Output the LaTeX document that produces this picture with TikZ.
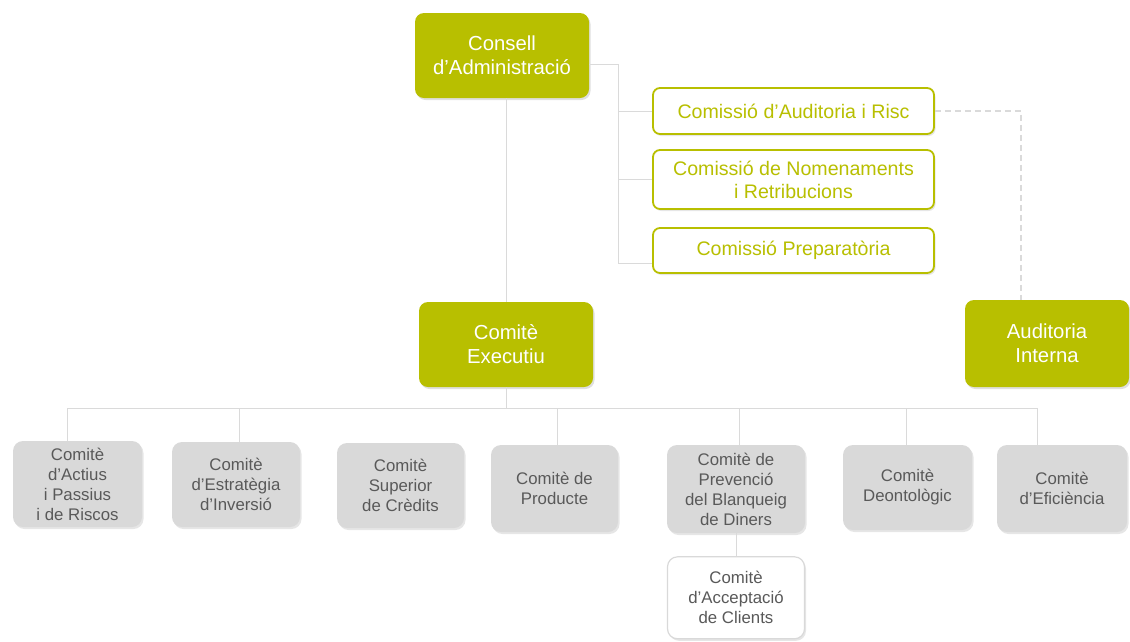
\documentclass[tikz,border=0pt]{standalone}
\usepackage{fontspec}
\setmainfont{Liberation Sans}
\usetikzlibrary{positioning, shadows}
\definecolor{olivegreen}{HTML}{B8BF00}
\definecolor{boxgray}{HTML}{D9D9D9}
\definecolor{inkgray}{HTML}{595959}
\definecolor{linegray}{HTML}{DADADA}
\tikzset{
  gbox/.style={fill=olivegreen, rounded corners=9pt, align=center, inner sep=0pt,
    font=\fontsize{20.3}{24}\selectfont, text=white,
    drop shadow={shadow xshift=1.5pt, shadow yshift=-2pt, opacity=.25}},
  cbox/.style={draw=olivegreen, fill=white, line width=1.8pt, rounded corners=7pt, align=center,
    inner sep=0pt, font=\fontsize{19.6}{23}\selectfont, text=olivegreen,
    drop shadow={shadow xshift=1.5pt, shadow yshift=-2pt, opacity=.2}},
  kbox/.style={fill=boxgray, rounded corners=10pt, align=center, inner sep=0pt,
    font=\fontsize{16.8}{20}\selectfont, text=inkgray,
    drop shadow={shadow xshift=1.5pt, shadow yshift=-2pt, opacity=.2}},
  wbox/.style={kbox, fill=white, draw=boxgray, line width=1.2pt},
  link/.style={draw=linegray, line width=1pt},
  dlink/.style={draw=linegray, line width=1.6pt, dash pattern=on 6pt off 4pt}
}
\begin{document}
\begin{tikzpicture}[x=1pt, y=-1pt]
\useasboundingbox (0,0) rectangle (1130,641);
% top level
\node[gbox, minimum width=174pt, minimum height=85pt] (consell) at (502,55.5) {Consell\\d’Administració};
\node[cbox, minimum width=281pt, minimum height=46pt] (aud) at (793.5,111) {Comissió d’Auditoria i Risc};
\node[cbox, minimum width=281pt, minimum height=59pt] (nom) at (793.5,179.5) {Comissió de Nomenaments\\i Retribucions};
\node[cbox, minimum width=281pt, minimum height=45pt] (prep) at (793.5,250.5) {Comissió Preparatòria};
\node[gbox, minimum width=174pt, minimum height=85pt] (exec) at (506,344.5) {Comitè\\Executiu};
\node[gbox, minimum width=164pt, minimum height=87pt] (audint) at (1047,343.5) {Auditoria\\Interna};
% committees
\node[kbox, minimum width=129pt, minimum height=86pt] (actius) at (77.5,484) {Comitè\\d’Actius\\i Passius\\i de Riscos};
\node[kbox, minimum width=128pt, minimum height=85pt] (estrat) at (236,484.5) {Comitè\\d’Estratègia\\d’Inversió};
\node[kbox, minimum width=127pt, minimum height=85pt] (superior) at (400.5,485.5) {Comitè\\Superior\\de Crèdits};
\node[kbox, minimum width=127pt, minimum height=87pt] (producte) at (554.5,488.5) {Comitè de\\Producte};
\node[kbox, minimum width=138pt, minimum height=88pt] (prevencio) at (736,489) {Comitè de\\Prevenció\\del Blanqueig\\de Diners};
\node[kbox, minimum width=129pt, minimum height=85pt] (deon) at (907.5,487.5) {Comitè\\Deontològic};
\node[kbox, minimum width=130pt, minimum height=87pt] (efic) at (1062,488.5) {Comitè\\d’Eficiència};
\node[wbox, minimum width=137pt, minimum height=82pt, below=23pt of prevencio] (accep) {Comitè\\d’Acceptació\\de Clients};
% connectors
\coordinate (spine) at (618,64);
\draw[link] (consell.east |- spine) -- (spine) |- ([yshift=-12.5pt]prep.west);
\draw[link] (spine |- aud.west) -- (aud.west);
\draw[link] (spine |- nom.west) -- (nom.west);
\draw[link] (consell.south -| exec.north) -- (exec.north);
\coordinate (dk) at (1021,111);
\draw[dlink] (aud.east) -- (dk) -- (dk |- audint.north);
\foreach \n/\x in {actius/67, estrat/239, producte/557, prevencio/739, deon/906, efic/1037} {
  \coordinate (d\n) at (\x,408);
  \draw[link] (d\n) -- (d\n |- \n.north);
}
\draw[link] (dactius) -- (defic);
\draw[link] (exec.south) -- (exec.south |- dactius);
\draw[link] (prevencio.south) -- (accep.north);
\end{tikzpicture}
\end{document}
